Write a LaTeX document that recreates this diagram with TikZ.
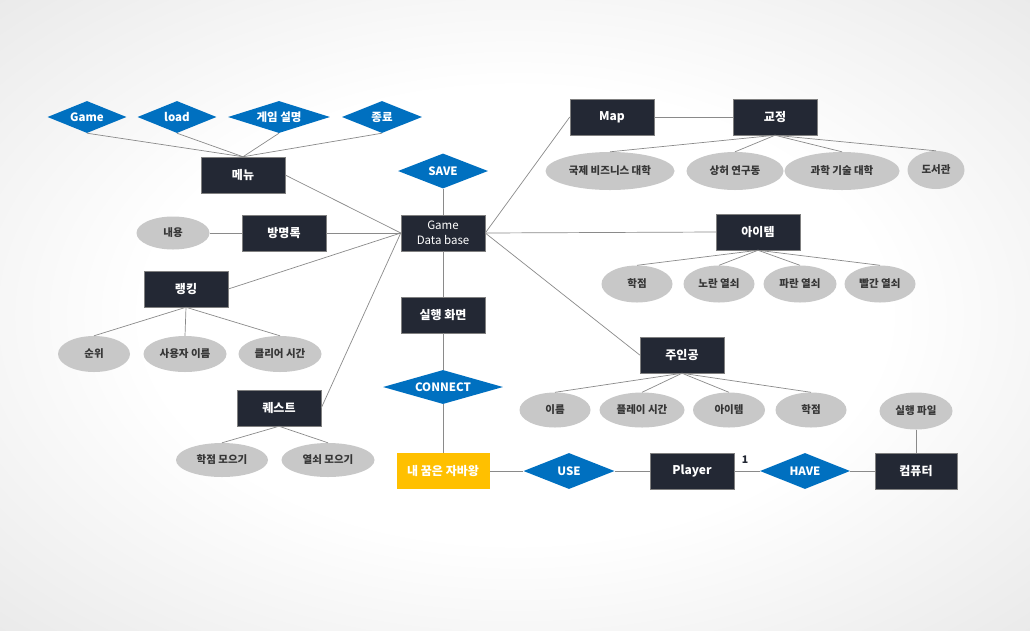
\documentclass[tikz,border=0pt]{standalone}
\usepackage{fontspec}
\setmainfont{Noto Sans CJK KR}
\usetikzlibrary{shapes.geometric}
\definecolor{boxc}{HTML}{232834}
\definecolor{relc}{HTML}{0070C0}
\definecolor{attc}{HTML}{C8C8C8}
\definecolor{goldc}{HTML}{FFC000}
\definecolor{linec}{HTML}{8A8A8A}
\definecolor{txtc}{HTML}{363636}
\pgfdeclareradialshading{bgshade}{\pgfpoint{0bp}{0bp}}{color(0bp)=(white);color(18bp)=(white);color(50bp)=(black!15);color(71bp)=(black!23)}
\begin{document}
\begin{tikzpicture}[x=1pt,y=-1pt,ent/.style={shape=rectangle,fill=boxc,draw=black!50,line width=0.5pt,text=white,font=\bfseries\fontsize{12}{14}\selectfont,minimum width=84pt,minimum height=36pt,inner sep=0pt},entY/.style={ent,fill=goldc,draw=none},rel/.style={shape=diamond,fill=relc,text=white,font=\bfseries\fontsize{11.5}{13}\selectfont,aspect=3,inner sep=0pt,minimum width=80pt,minimum height=33pt},attr/.style={shape=ellipse,fill=attc,text=txtc,font=\bfseries\fontsize{10.5}{12}\selectfont,inner sep=0pt,minimum width=72pt,minimum height=36pt},link/.style={draw=linec,line width=0.7pt}]
\def\ya{117};
\def\yb{171};
\def\yc{233};
\def\yd{284};
\def\ye{354};
\def\yf{410};
\def\yg{471};

\useasboundingbox (0,0) rectangle (1030,630);
\shade[shading=bgshade] (0,0) rectangle (1030,630);

\node[ent] (Menu) at (243,175) {메뉴};
\node[rel,minimum width=79pt,minimum height=32pt] (Game) at (87,\ya) {Game};
\draw[link] (Game.south) -- (Menu.north);
\node[rel,minimum width=79pt,minimum height=32pt] (Load) at (177,\ya) {load};
\draw[link] (Load.south) -- (Menu.north);
\node[rel,minimum width=102pt,minimum height=32pt] (Help) at (279,\ya) {게임 설명};
\draw[link] (Help.south) -- (Menu.north);
\node[rel,minimum width=80pt,minimum height=32pt] (Quit) at (382,\ya) {종료};
\draw[link] (Quit.south) -- (Menu.north);

\node[ent,font=\fontsize{11.5}{14.5}\selectfont,align=center] (DB) at (443,\yc) {Game\\Data base};
\draw[link] (Menu.east) -- (DB.west);
\node[rel,minimum width=90pt,minimum height=35pt] (Save) at (443,\yb) {SAVE};
\draw[link] (Save.south) -- (DB.north);

\node[ent] (Guest) at (284,\yc) {방명록};
\draw[link] (Guest.east) -- (DB.west);
\node[attr,minimum width=73pt,minimum height=33pt] (Text) at (173,\yc) {내용};
\draw[link] (Text.east) -- (Guest.west);

\node[ent] (Rank) at (186,289) {랭킹};
\draw[link] (Rank.east) -- (DB.west);
\node[attr] (Order) at (94,\ye) {순위};
\draw[link] (Rank.south) -- (Order.north);
\node[attr,minimum width=83pt] (User) at (185,\ye) {사용자 이름};
\draw[link] (Rank.south) -- (User.north);
\node[attr,minimum width=83pt] (Clear) at (280,\ye) {클리어 시간};
\draw[link] (Rank.south) -- (Clear.north);

\node[ent] (Quest) at (279,408) {퀘스트};
\draw[link] (Quest.east) -- (DB.west);
\node[attr,minimum width=92pt,minimum height=34pt] (Credit) at (222,460) {학점 모으기};
\draw[link] (Quest.south) -- (Credit.north);
\node[attr,minimum width=93pt,minimum height=34pt] (Keys) at (328,460) {열쇠 모으기};
\draw[link] (Quest.south) -- (Keys.north);

\node[ent] (Run) at (443,315) {실행 화면};
\draw[link] (DB.south) -- (Run.north);
\node[rel,minimum width=120pt,minimum height=34pt] (Conn) at (443,387) {CONNECT};
\draw[link] (Run.south) -- (Conn.north);
\node[entY,minimum width=93pt] (Main) at (443,\yg) {내 꿈은 자바왕};
\draw[link] (Conn.south) -- (Main.north);
\node[rel,minimum width=91pt,minimum height=36pt] (Use) at (569,\yg) {USE};
\draw[link] (Main.east) -- (Use.west);
\node[ent] (Player) at (692,\yg) {Player};
\draw[link] (Use.east) -- (Player.west);
\node[rel,minimum width=90pt,minimum height=36pt] (Have) at (805,\yg) {HAVE};
\draw[link] (Player.east) -- (Have.west);
\node[font=\bfseries\fontsize{10.5}{12}\selectfont,text=boxc] (One) at (745,460) {1};
\node[ent,minimum width=82pt] (Pc) at (916,\yg) {컴퓨터};
\draw[link] (Have.east) -- (Pc.west);
\node[attr,minimum width=73pt,minimum height=37pt] (Exe) at (916,411) {실행 파일};
\draw[link] (Exe.south) -- (Pc.north);

\node[ent] (Map) at (612,\ya) {Map};
\draw[link] (DB.east) -- (Map.west);
\node[ent] (Campus) at (775,\ya) {교정};
\draw[link] (Map.east) -- (Campus.west);
\node[attr,minimum width=129pt,minimum height=38pt] (Biz) at (610,\yb) {국제 비즈니스 대학};
\draw[link] (Campus.south) -- (Biz.north);
\node[attr,minimum width=97pt,minimum height=38pt] (Lab) at (735,\yb) {상허 연구동};
\draw[link] (Campus.south) -- (Lab.north);
\node[attr,minimum width=115pt,minimum height=38pt] (Sci) at (842,\yb) {과학 기술 대학};
\draw[link] (Campus.south) -- (Sci.north);
\node[attr,minimum width=57pt,minimum height=38pt] (Lib) at (936,170) {도서관};
\draw[link] (Campus.south) -- (Lib.north);

\node[ent] (Item) at (758,232) {아이템};
\draw[link] (DB.east) -- (Item.west);
\node[attr,minimum width=71pt,minimum height=37pt] (Grade) at (637,\yd) {학점};
\draw[link] (Item.south) -- (Grade.north);
\node[attr,minimum width=71pt,minimum height=37pt] (Yel) at (719,\yd) {노란 열쇠};
\draw[link] (Item.south) -- (Yel.north);
\node[attr,minimum width=73pt,minimum height=37pt] (Blu) at (800,\yd) {파란 열쇠};
\draw[link] (Item.south) -- (Blu.north);
\node[attr,minimum width=71pt,minimum height=37pt] (Red) at (880,\yd) {빨간 열쇠};
\draw[link] (Item.south) -- (Red.north);

\node[ent] (Hero) at (682,355) {주인공};
\draw[link] (DB.east) -- (Hero.west);
\node[attr,minimum width=71pt,minimum height=35pt] (Name) at (555,\yf) {이름};
\draw[link] (Hero.south) -- (Name.north);
\node[attr,minimum width=85pt,minimum height=35pt] (Play) at (642,\yf) {플레이 시간};
\draw[link] (Hero.south) -- (Play.north);
\node[attr,minimum width=72pt,minimum height=35pt] (Inv) at (729,\yf) {아이템};
\draw[link] (Hero.south) -- (Inv.north);
\node[attr,minimum width=71pt,minimum height=35pt] (Grade2) at (811,\yf) {학점};
\draw[link] (Hero.south) -- (Grade2.north);
\end{tikzpicture}
\end{document}
